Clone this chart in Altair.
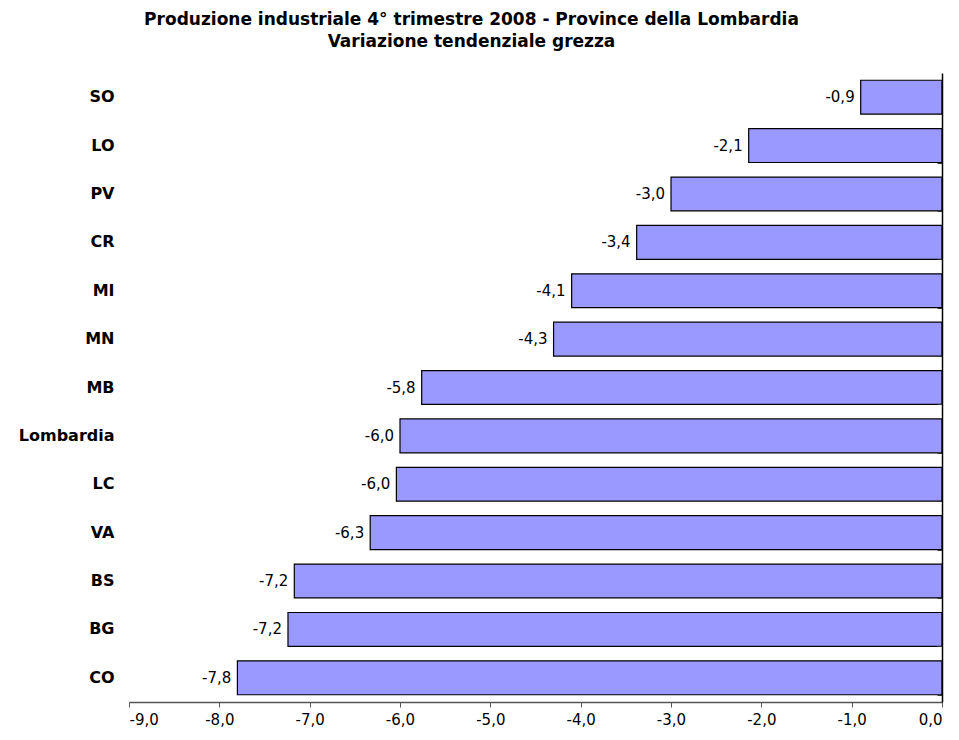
import altair as alt
import pandas as pd

provinces = ["SO", "LO", "PV", "CR", "MI", "MN", "MB", "Lombardia", "LC", "VA", "BS", "BG", "CO"]
values = [-0.9, -2.14, -3.0, -3.38, -4.1, -4.3, -5.76, -6.0, -6.04, -6.33, -7.17, -7.24, -7.8]
x_ticks = [-9, -8, -7, -6, -5, -4, -3, -2, -1, 0]

df = pd.DataFrame({"prov": provinces, "val": values})

W, H = 813, 629
FONT = "DejaVu Sans"
FMT = "replace(replace(format({v}, '.1f'), '.', ','), '\u2212', '-')"

y_enc = alt.Y("prov:N", sort=provinces,
              scale=alt.Scale(paddingInner=0.3, paddingOuter=0.15),
              axis=alt.Axis(title=None, orient="left", domain=False, ticks=False,
                            labelFont=FONT, labelFontSize=16, labelFontWeight="bold",
                            labelColor="black", labelPadding=15))

x_enc = alt.X("val:Q", scale=alt.Scale(domain=[-9, 0], nice=False, zero=False),
              axis=alt.Axis(title=None, values=x_ticks, grid=False,
                            labelExpr=FMT.format(v="datum.value"),
                            labelFont=FONT, labelFontSize=15, labelColor="black",
                            labelPadding=5, domainColor="#555555", tickColor="#555555",
                            tickSize=5, domainWidth=1.5))

bars = alt.Chart(df).mark_bar(color="#9999FF", stroke="black", strokeWidth=1.2).encode(
    x=x_enc, x2=alt.datum(0), y=y_enc)

labels = alt.Chart(df).transform_calculate(
    lab=FMT.format(v="datum.val")
).mark_text(align="right", baseline="middle", dx=-6, font=FONT, fontSize=15, color="black").encode(
    x=alt.X("val:Q"),
    y=alt.Y("prov:N", sort=provinces, axis=None),
    text="lab:N")

right_axis = alt.Chart(df).mark_bar(opacity=0).encode(
    x=alt.X("val:Q"),
    y=alt.Y("prov:N", sort=provinces,
            axis=alt.Axis(title=None, orient="left", labels=False, domain=True, ticks=True,
                          tickBand="extent", tickSize=5, domainColor="black", tickColor="#333333",
                          domainWidth=1.5, offset=-W, zindex=2)))

chart = alt.layer(bars, labels, right_axis).resolve_axis(y="independent").properties(
    width=W, height=H,
    title=alt.TitleParams(
        text=["Produzione industriale 4° trimestre 2008 - Province della Lombardia",
              "Variazione tendenziale grezza"],
        font=FONT, fontSize=17, fontWeight="bold", color="black",
        anchor="middle", lineHeight=22, offset=22, dx=-64),
    autosize=alt.AutoSizeParams(type="none"),
    padding={"left": 129, "top": 73, "right": 17, "bottom": 38},
    view=alt.ViewBackground(stroke=None),
).configure_view(stroke=None).configure(background="white")

chart.save("out.html", embed_options={"renderer": "svg", "actions": False})
